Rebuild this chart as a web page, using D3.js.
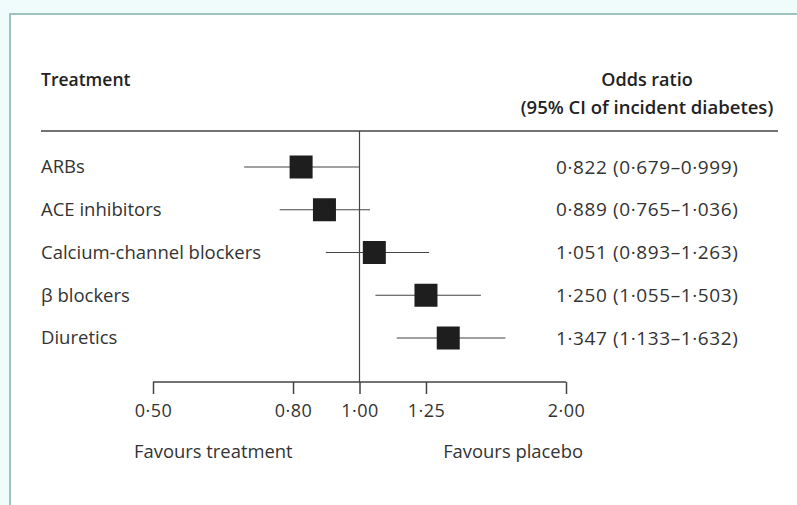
<!DOCTYPE html>
<html>
<head>
<meta charset="utf-8">
<script src="https://cdn.jsdelivr.net/npm/d3@7"></script>
<style>
  body { margin: 0; background: #f0fbfb; }
  svg { display: block; font-family: "Open Sans", sans-serif; }
</style>
</head>
<body>
<div id="chart"></div>
<script>
const FRAME_WIDTH = 797;
const FRAME_HEIGHT = 505;

// data
const TREATMENTS = ["ARBs", "ACE inhibitors", "Calcium-channel blockers", "\u03b2 blockers", "Diuretics"];
const ODDS = [0.822, 0.889, 1.051, 1.250, 1.347];
const LOWER = [0.679, 0.765, 0.893, 1.055, 1.133];
const UPPER = [0.999, 1.036, 1.263, 1.503, 1.632];
const TICKS = [0.5, 0.8, 1.0, 1.25, 2.0];

const fmt = (v, n) => v.toFixed(n).replace(".", "\u00b7");

const SVG = d3.select("#chart")
  .append("svg")
    .attr("width", FRAME_WIDTH)
    .attr("height", FRAME_HEIGHT);

// white panel with teal border
SVG.append("rect")
  .attr("x", 10).attr("y", 14)
  .attr("width", FRAME_WIDTH).attr("height", FRAME_HEIGHT)
  .attr("fill", "#fff")
  .attr("stroke", "#9dc3c3")
  .attr("stroke-width", 2);

const X = d3.scaleLog().domain([0.5, 2]).range([153, 566]);
const Y = d3.scalePoint().domain(TREATMENTS).range([167, 338]);
const AXIS_Y = 382;

// headers
SVG.append("text").attr("x", 41).attr("y", 86)
  .attr("font-size", 17.5).attr("font-weight", 600).attr("fill", "#222")
  .text("Treatment");
SVG.append("text").attr("x", 647).attr("y", 86).attr("text-anchor", "middle")
  .attr("font-size", 18).attr("font-weight", 600).attr("fill", "#222")
  .text("Odds ratio");
SVG.append("text").attr("x", 647).attr("y", 114).attr("text-anchor", "middle")
  .attr("font-size", 18.5).attr("font-weight", 600).attr("fill", "#222")
  .text("(95% CI of incident diabetes)");

SVG.append("line")
  .attr("x1", 41).attr("x2", 778).attr("y1", 131).attr("y2", 131)
  .attr("stroke", "#444").attr("stroke-width", 1.5);

// reference line at 1
SVG.append("line")
  .attr("x1", X(1)).attr("x2", X(1)).attr("y1", 131).attr("y2", AXIS_Y)
  .attr("stroke", "#444").attr("stroke-width", 1.2);

// axis
const axis = SVG.append("g")
  .attr("transform", "translate(0," + AXIS_Y + ")")
  .call(d3.axisBottom(X).tickValues(TICKS).tickFormat(d => fmt(d, 2)).tickSize(12).tickPadding(10));
axis.select(".domain").attr("stroke", "#444").attr("stroke-width", 1.5)
  .attr("d", "M" + X(0.5) + ",0H" + X(2));
axis.selectAll(".tick line").attr("stroke", "#444").attr("stroke-width", 1.5);
axis.selectAll(".tick text").attr("font-size", 18).attr("fill", "#333")
  .attr("letter-spacing", 0.5)
  .attr("font-family", "Open Sans, sans-serif");

SVG.append("text").attr("x", 134).attr("y", 458)
  .attr("font-size", 18.4).attr("fill", "#333").text("Favours treatment");
SVG.append("text").attr("x", 583).attr("y", 458).attr("text-anchor", "end")
  .attr("font-size", 18.4).attr("fill", "#333").text("Favours placebo");

// rows
const rows = SVG.selectAll(".row")
  .data(TREATMENTS)
  .enter().append("g").attr("class", "row");

rows.append("text")
  .attr("x", 41).attr("y", d => Y(d)).attr("dy", "0.35em")
  .attr("font-size", 18.5).attr("fill", "#333")
  .text(d => d);

rows.append("line")
  .attr("x1", (d, i) => X(LOWER[i])).attr("x2", (d, i) => X(UPPER[i]))
  .attr("y1", d => Y(d)).attr("y2", d => Y(d))
  .attr("stroke", "#444").attr("stroke-width", 1.2);

const SQ = 23;
rows.append("rect")
  .attr("x", (d, i) => X(ODDS[i]) - SQ / 2)
  .attr("y", d => Y(d) - SQ / 2)
  .attr("width", SQ).attr("height", SQ)
  .attr("fill", "#1e1e1e");

rows.append("text")
  .attr("x", 556).attr("y", d => Y(d)).attr("dy", "0.35em")
  .attr("font-size", 19).attr("fill", "#333").attr("letter-spacing", 0.6)
  .text((d, i) => fmt(ODDS[i], 3) + " (" + fmt(LOWER[i], 3) + "\u2013" + fmt(UPPER[i], 3) + ")");
</script>
</body>
</html>
